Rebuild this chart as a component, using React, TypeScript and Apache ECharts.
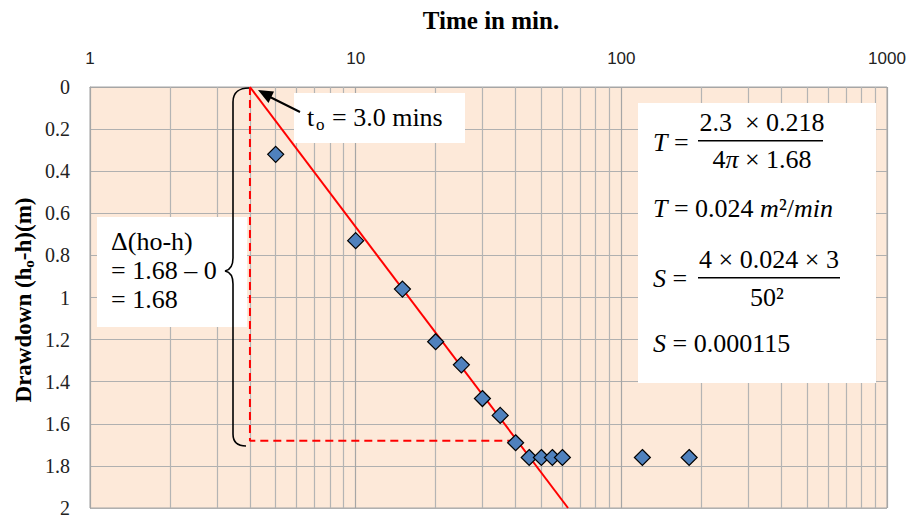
import React, { useEffect, useRef } from "react";
import * as echarts from "echarts";

const timeMin = [5, 10, 15, 20, 25, 30, 35, 40, 45, 50, 55, 60, 120, 180];
const drawdown = [0.32, 0.73, 0.96, 1.21, 1.32, 1.48, 1.56, 1.69, 1.76, 1.76, 1.76, 1.76, 1.76, 1.76];
const fitLine = [[4, 0], [63, 2]];
const deltaGuide = [[4, 0], [4, 1.68], [40, 1.68]];
const minorTicks = [2, 3, 4, 5, 6, 7, 8, 9, 20, 30, 40, 50, 60, 70, 80, 90, 200, 300, 400, 500, 600, 700, 800, 900];

const bracePath =
  "M249 88 C240 88 233 92 233 102 L233 258 C233 266 230 270 225 271 C230 272 233 276 233 284 L233 434 C233 442 238 446 246 446";

let registered = false;

export default function App() {
  const ref = useRef<HTMLDivElement>(null);
  useEffect(() => {
    document.body.style.margin = "0";
    if (!registered) {
      echarts.graphic.registerShape("brace", echarts.graphic.extendPath(bracePath, {}));
      registered = true;
    }
    const chart = echarts.init(ref.current!, null, { renderer: "svg" });
    const serif = "'Liberation Serif', 'Times New Roman', serif";
    const math = "'Liberation Serif', 'DejaVu Serif', serif";
    const mfs = 26;
    const mathRich = {
      n: { fontFamily: math, fontSize: mfs, color: "#000" },
      i: { fontFamily: math, fontSize: mfs, fontStyle: "italic", color: "#000" },
    };
    chart.setOption({
      animation: false,
      backgroundColor: "#fff",
      grid: {
        left: 90,
        right: 27,
        top: 87,
        bottom: 6,
        show: true,
        backgroundColor: "#fde9d9",
        borderColor: "#a6a6a6",
        borderWidth: 1,
      },
      xAxis: {
        type: "log",
        logBase: 10,
        min: 1,
        max: 1000,
        position: "top",
        axisLine: { show: true, lineStyle: { color: "#a6a6a6" } },
        axisTick: { show: false },
        axisLabel: {
          margin: 20,
          fontFamily: "'Liberation Sans', Arial, sans-serif",
          fontSize: 17,
          color: "#222",
          formatter: (v: number) => String(Math.round(v)),
        },
        splitLine: { show: true, lineStyle: { color: "#a6a6a6", width: 1.2 } },
      },
      yAxis: {
        type: "value",
        inverse: true,
        min: 0,
        max: 2,
        interval: 0.2,
        axisLine: { show: true, lineStyle: { color: "#a6a6a6" } },
        axisTick: { show: false },
        axisLabel: {
          margin: 20,
          fontFamily: serif,
          fontSize: 20,
          color: "#222",
        },
        splitLine: { show: true, lineStyle: { color: "#b0b0b0", width: 1.2 } },
      },
      series: [
        {
          type: "scatter",
          data: [[1, 0]],
          symbolSize: 0,
          silent: true,
          z: 1,
          markLine: {
            z: 1,
            silent: true,
            symbol: ["none", "none"],
            label: { show: false },
            lineStyle: { color: "#b4b4b4", type: "solid", width: 1.2 },
            data: minorTicks.map((v) => ({ xAxis: v })),
          },
        },
        {
          type: "line",
          data: fitLine,
          symbol: "none",
          lineStyle: { color: "#ff0000", width: 2 },
          z: 10,
        },
        {
          type: "line",
          data: deltaGuide,
          symbol: "none",
          lineStyle: { color: "#ff0000", width: 2, type: [8, 5] },
          z: 10,
        },
        {
          type: "scatter",
          data: timeMin.map((t, i) => [t, drawdown[i]]),
          symbol: "diamond",
          symbolSize: 16,
          itemStyle: { color: "#4f81bd", borderColor: "#000", borderWidth: 1.2, opacity: 1 },
          z: 11,
        },
      ],
      graphic: [
        {
          type: "text",
          z: 100,
          x: 491,
          y: 20,
          style: {
            text: "Time in min.",
            fontFamily: serif,
            fontSize: 25,
            fontWeight: "bold",
            fill: "#000",
            align: "center",
            verticalAlign: "middle",
          },
        },
        {
          type: "text",
          z: 100,
          x: 23,
          y: 300,
          rotation: Math.PI / 2,
          style: {
            text: "{a|Drawdown (h}{s|o}{a|-h)(m)}",
            align: "center",
            verticalAlign: "middle",
            rich: {
              a: { fontFamily: serif, fontSize: 23, fontWeight: "bold", fill: "#000", lineHeight: 26, verticalAlign: "middle" },
              s: { fontFamily: serif, fontSize: 15, fontWeight: "bold", fill: "#000", lineHeight: 14, verticalAlign: "bottom", padding: [10, 0, 0, 0] },
            },
          },
        },
        // t0 box
        {
          type: "rect",
          z: 100,
          shape: { x: 294, y: 93, width: 171, height: 50 },
          style: { fill: "#fff" },
        },
        {
          type: "text",
          z: 101,
          x: 307,
          y: 117,
          style: { text: "t", fontFamily: serif, fontSize: 26, fill: "#000", verticalAlign: "middle" },
        },
        {
          type: "text",
          z: 101,
          x: 316,
          y: 124,
          style: { text: "o", fontFamily: serif, fontSize: 17, fill: "#000", verticalAlign: "middle" },
        },
        {
          type: "text",
          z: 101,
          x: 332,
          y: 117,
          style: { text: "= 3.0 mins", fontFamily: serif, fontSize: 26, fill: "#000", verticalAlign: "middle" },
        },
        {
          type: "line",
          z: 101,
          shape: { x1: 300, y1: 112, x2: 268, y2: 96 },
          style: { stroke: "#000", lineWidth: 2 },
        },
        {
          type: "polygon",
          z: 101,
          shape: { points: [[258, 90], [274, 91.5], [268.5, 103]] },
          style: { fill: "#000" },
        },
        // delta box
        {
          type: "rect",
          z: 100,
          shape: { x: 97, y: 217, width: 150, height: 110 },
          style: { fill: "#fff" },
        },
        {
          type: "text",
          z: 101,
          x: 111,
          y: 241,
          style: { text: "Δ(ho-h)", fontFamily: serif, fontSize: 26, fill: "#000", verticalAlign: "middle" },
        },
        {
          type: "text",
          z: 101,
          x: 111,
          y: 270,
          style: { text: "= 1.68 – 0", fontFamily: serif, fontSize: 26, fill: "#000", verticalAlign: "middle" },
        },
        {
          type: "text",
          z: 101,
          x: 111,
          y: 299,
          style: { text: "= 1.68", fontFamily: serif, fontSize: 26, fill: "#000", verticalAlign: "middle" },
        },
        {
          type: "brace",
          z: 102,
          x: 0,
          y: 0,
          scaleX: 1,
          scaleY: 1,
          style: { fill: "none", stroke: "#000", lineWidth: 1.6 },
        },
        // formula box
        {
          type: "rect",
          z: 100,
          shape: { x: 638, y: 103, width: 238, height: 280 },
          style: { fill: "#fff" },
        },
        {
          type: "text",
          z: 101,
          x: 653,
          y: 142,
          style: { text: "{i|T}{n| =}", verticalAlign: "middle", rich: mathRich },
        },
        {
          type: "text",
          z: 101,
          x: 762,
          y: 122,
          style: { text: "2.3  × 0.218", fontFamily: math, fontSize: mfs, fill: "#000", align: "center", verticalAlign: "middle" },
        },
        {
          type: "rect",
          z: 101,
          shape: { x: 698, y: 140, width: 125, height: 1.6 },
          style: { fill: "#000" },
        },
        {
          type: "text",
          z: 101,
          x: 762,
          y: 159,
          style: { text: "{n|4}{i|π}{n| × 1.68}", align: "center", verticalAlign: "middle", rich: mathRich },
        },
        {
          type: "text",
          z: 101,
          x: 653,
          y: 208,
          style: { text: "{i|T}{n| = 0.024 }{i|m}{n|²/}{i|min}", verticalAlign: "middle", rich: mathRich },
        },
        {
          type: "text",
          z: 101,
          x: 653,
          y: 278,
          style: { text: "{i|S}{n| =}", verticalAlign: "middle", rich: mathRich },
        },
        {
          type: "text",
          z: 101,
          x: 769,
          y: 259,
          style: { text: "4 × 0.024 × 3", fontFamily: math, fontSize: mfs, fill: "#000", align: "center", verticalAlign: "middle" },
        },
        {
          type: "rect",
          z: 101,
          shape: { x: 698, y: 277, width: 142, height: 1.6 },
          style: { fill: "#000" },
        },
        {
          type: "text",
          z: 101,
          x: 767,
          y: 297,
          style: { text: "50²", fontFamily: math, fontSize: mfs, fill: "#000", align: "center", verticalAlign: "middle" },
        },
        {
          type: "text",
          z: 101,
          x: 653,
          y: 343,
          style: { text: "{i|S}{n| = 0.000115}", verticalAlign: "middle", rich: mathRich },
        },
      ],
    });
    return () => chart.dispose();
  }, []);
  return <div ref={ref} style={{ width: 914, height: 518 }} />;
}
